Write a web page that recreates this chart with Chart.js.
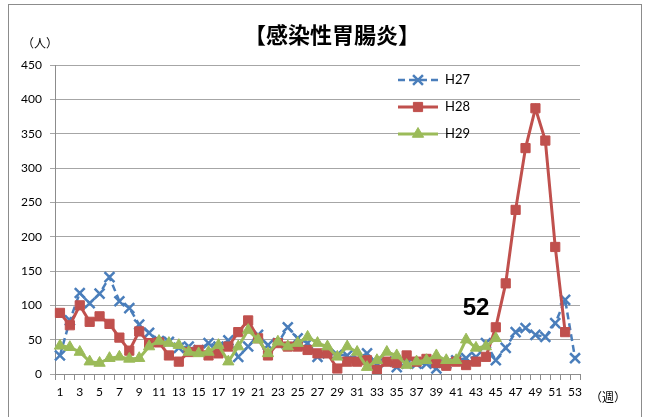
<!DOCTYPE html>
<html>
<head>
<meta charset="utf-8">
<script src="https://cdn.jsdelivr.net/npm/chart.js@4.4.0/dist/chart.umd.min.js"></script>
<style>
  html, body { margin: 0; padding: 0; background: #fff; }
  #wrap { width: 651px; height: 417px; }
</style>
</head>
<body>
<div id="wrap"><canvas id="chart" width="651" height="417"></canvas></div>
<script>
// 週 (week numbers)
const weeks = ['1','2','3','4','5','6','7','8','9','10','11','12','13','14','15','16','17','18','19','20',
  '21','22','23','24','25','26','27','28','29','30','31','32','33','34','35','36','37','38','39','40',
  '41','42','43','44','45','46','47','48','49','50','51','52','53'];

const h27 = [27, 78, 118, 103, 117, 141, 106, 96, 72, 60, 48, 47, 38, 40, 35, 45, 40, 49, 25, 40,
  57, 42, 45, 68, 52, 45, 25, 30, 28, 27, 22, 30, 15, 18, 10, 15, 15, 15, 8, 15,
  20, 23, 25, 45, 20, 38, 61, 67, 57, 54, 74, 108, 23];

const h28 = [89, 71, 100, 76, 84, 73, 53, 34, 62, 45, 46, 27, 18, 32, 35, 27, 30, 40, 61, 78,
  52, 27, 45, 40, 40, 35, 30, 30, 8, 18, 18, 20, 6, 18, 16, 27, 18, 22, 16, 12,
  18, 13, 18, 25, 68, 132, 239, 329, 387, 340, 185, 61, null];

const h29 = [41, 39, 32, 18, 16, 23, 25, 22, 23, 40, 48, 45, 42, 32, 30, 32, 42, 18, 40, 64,
  50, 30, 47, 40, 45, 54, 45, 40, 25, 40, 32, 10, 20, 32, 27, 13, 18, 20, 27, 20,
  20, 50, 38, 40, 52, null, null, null, null, null, null, null, null];

const yTicks = { min: 0, max: 450, step: 50 };

const BLUE  = '#4a7ebb';
const RED   = '#c0504d';
const GREEN = '#9bbb59';

const TITLE     = '【感染性胃腸炎】';
const Y_UNIT    = '（人）';
const X_UNIT    = '（週）';
const NOTE_TEXT = '52';
const NOTE_AT   = { index: 42, value: 95 };

// frame, title, units, legend and the "52" note
const extras = {
  id: 'extras',
  beforeDraw(chart) {
    const c = chart.ctx;
    c.save();
    c.fillStyle = '#fff';
    c.fillRect(0, 0, chart.width, chart.height);
    c.strokeStyle = '#8c8c8c';
    c.lineWidth = 1;
    c.strokeRect(8.5, 4.5, 633, 420);
    c.restore();
  },
  afterDraw(chart) {
    const c = chart.ctx;
    const { x, y } = chart.scales;
    c.save();
    c.fillStyle = '#000';
    c.textBaseline = 'middle';

    c.textAlign = 'center';
    c.font = 'bold 22px "Noto Sans CJK JP"';
    c.fillText(TITLE, 332, 35);

    c.font = '12px "Noto Sans CJK JP"';
    c.fillText(Y_UNIT, 40, 43);
    c.fillText(X_UNIT, 608, 397);

    // legend, drawn inside the plot like the Excel original
    chart.data.datasets.forEach((ds, i) => {
      const ly = 80 + i * 27;
      c.save();
      c.strokeStyle = ds.borderColor;
      c.lineWidth = ds.borderWidth;
      c.setLineDash(ds.borderDash || []);
      c.beginPath();
      c.moveTo(398, ly);
      c.lineTo(438, ly);
      c.stroke();
      c.setLineDash([]);
      c.fillStyle = ds.backgroundColor;
      c.lineWidth = ds.pointBorderWidth;
      Chart.helpers.drawPoint(c, {
        pointStyle: ds.pointStyle, radius: ds.pointRadius, borderWidth: ds.pointBorderWidth, rotation: 0
      }, 418, ly);
      c.restore();
      c.fillStyle = '#000';
      c.textAlign = 'left';
      c.font = '13px Lato';
      c.fillText(ds.label, 445, ly);
    });

    c.textAlign = 'center';
    c.font = 'bold 24px "Liberation Sans"';
    c.fillText(NOTE_TEXT, x.getPixelForValue(NOTE_AT.index), y.getPixelForValue(NOTE_AT.value));
    c.restore();
  }
};

function series(label, data, color, style, radius, extra) {
  return Object.assign({
    label, data,
    borderColor: color,
    backgroundColor: color,
    pointBackgroundColor: color,
    pointBorderColor: color,
    borderWidth: 3,
    pointStyle: style,
    pointRadius: radius,
    pointHoverRadius: radius,
    pointBorderWidth: 1,
    tension: 0,
    spanGaps: false,
  }, extra);
}

new Chart(document.getElementById('chart'), {
  type: 'line',
  data: {
    labels: weeks,
    datasets: [
      series('H27', h27, BLUE, 'crossRot', 7, { borderWidth: 2.5, borderDash: [7, 4], pointBorderWidth: 2.5, order: 3 }),
      series('H28', h28, RED, 'rect', 6.5, { order: 2 }),
      series('H29', h29, GREEN, 'triangle', 6.5, { order: 1 }),
    ],
  },
  options: {
    responsive: false,
    animation: false,
    layout: { padding: { top: 65, right: 71, left: 0, bottom: 0 } },
    plugins: {
      legend: { display: false },
      title: { display: false },
      tooltip: { enabled: false },
    },
    scales: {
      x: {
        offset: true,
        grid: { drawOnChartArea: false, drawTicks: true, tickLength: 6, offset: true, color: '#8c8c8c' },
        border: { color: '#8c8c8c' },
        ticks: {
          autoSkip: false, maxRotation: 0, padding: 5, color: '#000',
          font: { family: 'Lato', size: 12 },
          callback: (v, i) => (i % 2 === 0 ? weeks[i] : ''),
        },
        afterFit: s => { s.height = 43; },
      },
      y: {
        min: yTicks.min, max: yTicks.max,
        grid: { color: '#a6a6a6', tickLength: 5 },
        border: { color: '#8c8c8c' },
        ticks: {
          stepSize: yTicks.step, padding: 8, color: '#000',
          font: { family: 'Lato', size: 12 },
        },
        afterFit: s => { s.width = 55; },
      },
    },
  },
  plugins: [extras],
});
</script>
</body>
</html>
